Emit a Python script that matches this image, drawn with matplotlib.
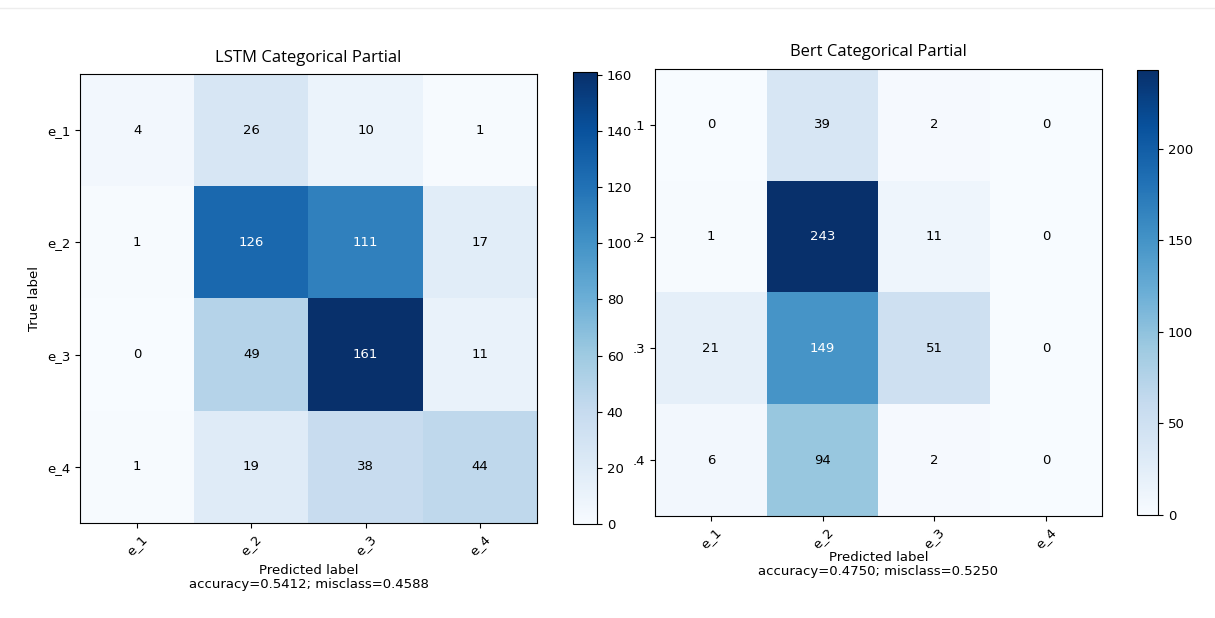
"""Two confusion matrices side by side: LSTM and Bert, categorical partial."""

import numpy as np
import matplotlib
matplotlib.use("Agg")
import matplotlib.pyplot as plt
from matplotlib.lines import Line2D

# class names
labels = ["e_1", "e_2", "e_3", "e_4"]
# the right image has the "e_" of its row labels cut off
labels_cut = [".1", ".2", ".3", ".4"]

# LSTM confusion matrix (rows = true, cols = predicted)
lstm_cm = np.array([[4, 26, 10, 1],
                    [1, 126, 111, 17],
                    [0, 49, 161, 11],
                    [1, 19, 38, 44]])

# Bert confusion matrix
bert_cm = np.array([[0, 39, 2, 0],
                    [1, 243, 11, 0],
                    [21, 149, 51, 0],
                    [6, 94, 2, 0]])

lstm_acc = "accuracy=0.5412; misclass=0.4588"
bert_acc = "accuracy=0.4750; misclass=0.5250"

W, H = 1215, 618


def px_axes(fig, left, top, right, bottom):
    """Add axes from pixel edges."""
    return fig.add_axes([left / W, 1 - bottom / H,
                         (right - left) / W, (bottom - top) / H])


def draw_cm(fig, ax, cax, cm, title, acc, ylabels, cticks, show_ylabel, pad):
    """Draw one confusion matrix with its colorbar."""
    im = ax.imshow(cm, interpolation="nearest", cmap="Blues", aspect="auto")
    ax.set_title(title, fontsize=12, family="Open Sans", pad=9)
    cb = fig.colorbar(im, cax=cax, ticks=cticks)
    cb.ax.tick_params(labelsize=9.5)

    ticks = np.arange(len(labels))
    ax.set_xticks(ticks)
    ax.set_xticklabels(labels, rotation=45, fontsize=9.5)
    ax.set_yticks(ticks)
    ax.set_yticklabels(ylabels, fontsize=9.5)

    # white text on dark cells
    thresh = cm.max() / 2
    for i in range(cm.shape[0]):
        for j in range(cm.shape[1]):
            ax.text(j, i, "{:,}".format(cm[i, j]),
                    ha="center", va="center", fontsize=9.5,
                    color="white" if cm[i, j] > thresh else "black")

    if show_ylabel:
        ax.set_ylabel("True label", fontsize=9.5)
    ax.set_xlabel("Predicted label\n" + acc, fontsize=9.5, labelpad=pad,
                  linespacing=1.1)


fig = plt.figure(figsize=(W / 100, H / 100), dpi=100)

ax1 = px_axes(fig, 80, 74, 537, 523)
cax1 = px_axes(fig, 573, 72, 597, 524)
draw_cm(fig, ax1, cax1, lstm_cm, "LSTM Categorical Partial", lstm_acc,
        labels, [0, 20, 40, 60, 80, 100, 120, 140, 160], True, 4)

ax2 = px_axes(fig, 655, 69, 1102, 516)
cax2 = px_axes(fig, 1137, 70, 1158, 515)
draw_cm(fig, ax2, cax2, bert_cm, "Bert Categorical Partial", bert_acc,
        labels_cut, [0, 50, 100, 150, 200], False, 0)

# faint line at the very top of the screenshot
fig.add_artist(Line2D([0, 1], [1 - 8 / H, 1 - 8 / H],
                      color="#ededed", lw=1, transform=fig.transFigure))

plt.savefig("out.png", dpi=100)
